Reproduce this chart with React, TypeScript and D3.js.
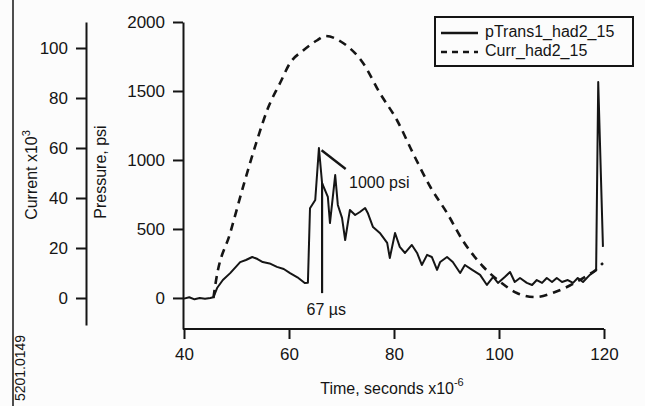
import React, { useEffect, useRef } from "react";
import * as d3 from "d3";

// pressure trace (time in µs, pressure in psi)
const pTime = [40, 41, 42, 43, 44, 45, 45.6, 46.3, 47.4, 48.8, 50.7, 51.8, 53.0, 54.0, 55.0, 56.3, 57.7, 59.0, 60.2, 61.6, 63.0, 63.6, 64.0, 65.0, 65.7,
  66.3, 67.4, 67.8, 68.8, 69.3, 70.1, 70.7, 71.6, 72.6, 73.5, 74.5, 75.0, 76.0, 77.3, 78.7, 79.2, 80.2, 81.1, 82.1,
  83.4, 84.4, 85.3, 86.3, 87.2, 88.2, 88.8, 90.1, 91.2, 92.6, 93.5, 94.9, 96.4, 97.7, 98.9, 99.8, 101.1, 102.1,
  103.0, 104.0, 105.3, 106.3, 107.2, 108.2, 109.1, 110.1, 111.0, 112.0, 113.1, 114.1, 115.0, 116.0, 117.3, 118.1,
  118.5, 118.9, 119.8];
const pValue = [-5, 5, -10, 0, -5, 0, 5, 72, 130, 180, 260, 275, 297, 282, 260, 250, 225, 210, 180, 150, 108, 110, 650, 710, 1087,
  833, 732, 543, 891, 674, 580, 420, 638, 601, 623, 652, 616, 514, 471, 399, 290, 471, 370, 326,
  384, 326, 239, 312, 297, 203, 261, 297, 261, 181, 239, 203, 167, 94, 152, 109, 152, 188,
  116, 145, 109, 94, 130, 109, 145, 116, 145, 116, 130, 109, 145, 116, 167, 188,
  200, 1565, 370];

// current trace (time in µs, current x10^3)
const cTime = [45.6, 46.1, 48.8, 51.6, 53.9, 56.0, 58.3, 60.2, 62.7, 65.3, 66.9, 70.3, 74.1, 77.3, 80.6, 83.6, 86.9,
  90.1, 93.1, 97.0, 100.5, 103.4, 106.9, 110.7, 113.5, 116.8, 118.3, 119.8];
const cValue = [0, 7, 26, 47, 63, 76, 86, 94, 99, 103, 104.8, 102, 94, 82, 71, 58, 44.5,
  34, 23, 12.5, 6, 2, 0.4, 2.4, 5, 9, 11, 14];

const timeTicks = [40, 60, 80, 100, 120];
const pressureTicks = [0, 500, 1000, 1500, 2000];
const currentTicks = [0, 20, 40, 60, 80, 100];

const legendLabels = ["pTrans1_had2_15", "Curr_had2_15"];

const FONT = "'Liberation Sans', Arial, Helvetica, sans-serif";
const INK = "#151515";

const App = () => {
  const svgRef = useRef<SVGSVGElement | null>(null);

  useEffect(() => {
    const svg = d3.select(svgRef.current);
    svg.selectAll("*").remove();

    const width = 645;
    const height = 406;

    const x = d3.scaleLinear().domain([40, 120]).range([184, 604]);
    const yP = d3.scaleLinear().domain([-225, 2000]).range([329, 22]);
    const yC = d3.scaleLinear().domain([-10.8, 110.4]).range([325, 22]);

    svg.attr("width", width).attr("height", height);
    svg.append("rect").attr("width", width).attr("height", height).attr("fill", "#fcfcfc");

    // far left border line and id
    svg.append("line").attr("x1", 13).attr("x2", 13).attr("y1", 0).attr("y2", height)
      .attr("stroke", INK).attr("stroke-width", 1.5);
    svg.append("text")
      .attr("transform", "translate(25, 368) rotate(-90)")
      .attr("text-anchor", "middle")
      .style("font-family", FONT).style("font-size", "14px").attr("fill", INK)
      .text("5201.0149");

    // pressure axis
    const pAxis = svg.append("g").attr("transform", "translate(183, 0)")
      .call(d3.axisLeft(yP).tickValues(pressureTicks).tickFormat(d3.format("d")).tickSize(10).tickSizeOuter(0).tickPadding(8));
    pAxis.selectAll("text").style("font-family", FONT).style("font-size", "17px").attr("fill", INK);
    pAxis.selectAll("line, path").attr("stroke", INK).attr("stroke-width", 2);

    svg.append("text")
      .attr("transform", "translate(106, 172) rotate(-90)")
      .attr("text-anchor", "middle")
      .style("font-family", FONT).style("font-size", "16px").attr("fill", INK)
      .text("Pressure, psi");

    // current axis
    const cAxis = svg.append("g").attr("transform", "translate(86, 0)")
      .call(d3.axisLeft(yC).tickValues(currentTicks).tickFormat(d3.format("d")).tickSize(10).tickSizeOuter(0).tickPadding(8));
    cAxis.selectAll("text").style("font-family", FONT).style("font-size", "17px").attr("fill", INK);
    cAxis.selectAll("line, path").attr("stroke", INK).attr("stroke-width", 2);

    const cLabel = svg.append("text")
      .attr("transform", "translate(37, 175) rotate(-90)")
      .attr("text-anchor", "middle")
      .style("font-family", FONT).style("font-size", "16px").attr("fill", INK);
    cLabel.append("tspan").text("Current x10");
    cLabel.append("tspan").attr("dy", -7).style("font-size", "11px").text("3");

    // time axis
    const xAxis = svg.append("g").attr("transform", "translate(0, 329)")
      .call(d3.axisBottom(x).tickValues(timeTicks).tickSize(10).tickSizeOuter(0).tickPadding(9));
    xAxis.select(".domain").attr("d", "M183,0H604");
    xAxis.selectAll("text").style("font-family", FONT).style("font-size", "17px").attr("fill", INK);
    xAxis.selectAll("line, path").attr("stroke", INK).attr("stroke-width", 2);

    const xLabel = svg.append("text")
      .attr("x", 392).attr("y", 394)
      .attr("text-anchor", "middle")
      .style("font-family", FONT).style("font-size", "16px").attr("fill", INK);
    xLabel.append("tspan").text("Time, seconds x10");
    xLabel.append("tspan").attr("dy", -8).style("font-size", "11px").text("-6");

    // current curve (dashed)
    const cLine = d3.line<number>()
      .x((_, i) => x(cTime[i]))
      .y(d => yC(d))
      .curve(d3.curveMonotoneX);
    svg.append("path")
      .datum(cValue)
      .attr("d", cLine)
      .attr("fill", "none")
      .attr("stroke", INK)
      .attr("stroke-width", 2.6)
      .attr("stroke-dasharray", "8,6");

    // pressure curve (solid)
    const pLine = d3.line<number>()
      .x((_, i) => x(pTime[i]))
      .y(d => yP(d));
    svg.append("path")
      .datum(pValue)
      .attr("d", pLine)
      .attr("fill", "none")
      .attr("stroke", INK)
      .attr("stroke-width", 2)
      .attr("stroke-linejoin", "round");

    // annotations
    svg.append("line")
      .attr("x1", x(66.3)).attr("x2", x(66.3))
      .attr("y1", yP(833)).attr("y2", yP(35))
      .attr("stroke", INK).attr("stroke-width", 2.2);
    svg.append("text")
      .attr("x", x(67.1)).attr("y", 315)
      .attr("text-anchor", "middle")
      .style("font-family", FONT).style("font-size", "16px").attr("fill", INK)
      .text("67 µs");

    svg.append("line")
      .attr("x1", x(66.2)).attr("y1", yP(1070))
      .attr("x2", x(70.8)).attr("y2", yP(935))
      .attr("stroke", INK).attr("stroke-width", 2.4);
    svg.append("text")
      .attr("x", 349).attr("y", 188)
      .style("font-family", FONT).style("font-size", "16px").attr("fill", INK)
      .text("1000 psi");

    // legend
    const legend = svg.append("g").attr("transform", "translate(435, 17)");
    legend.append("rect")
      .attr("width", 198).attr("height", 49)
      .attr("fill", "#fcfcfc").attr("stroke", INK).attr("stroke-width", 2);
    legendLabels.forEach((label, i) => {
      const row = legend.append("g").attr("transform", `translate(0, ${16 + i * 19})`);
      row.append("line")
        .attr("x1", 6).attr("x2", 43)
        .attr("stroke", INK).attr("stroke-width", 2.4)
        .attr("stroke-dasharray", i === 1 ? "6,5" : null);
      row.append("text")
        .attr("x", 50).attr("y", 0)
        .attr("dominant-baseline", "middle")
        .style("font-family", FONT).style("font-size", "16px").attr("fill", INK)
        .text(label);
    });
  }, []);

  return (
    <div style={{ position: "absolute", left: 0, top: 0 }}>
      <svg ref={svgRef} style={{ display: "block" }} />
    </div>
  );
};

export default App;
